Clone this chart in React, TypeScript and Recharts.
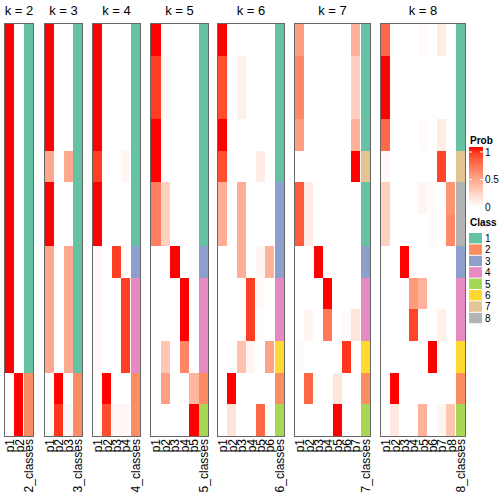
import React from 'react';
import { BarChart, Bar, XAxis, YAxis, Cell } from 'recharts';

const CLASS_COLORS = ['#66C2A5', '#FC8D62', '#8DA0CB', '#E78AC3', '#A6D854', '#FFD92F', '#E5C494', '#B3B3B3'];
const CLASS_LABELS = ['1', '2', '3', '4', '5', '6', '7', '8'];
const PROB_TICKS = [1, 0.5, 0];

const k2Probs = [
  [1, 0], [1, 0], [1, 0], [1, 0], [1, 0], [1, 0], [1, 0], [1, 0], [1, 0], [1, 0], [1, 0],
  [0, 1], [0, 1],
];
const k2Class = [1, 1, 1, 1, 1, 1, 1, 1, 1, 1, 1, 2, 2];

const k3Probs = [
  [1, 0, 0], [1, 0, 0], [1, 0, 0], [1, 0, 0],
  [0.45, 0, 0.45],
  [1, 0, 0], [1, 0, 0],
  [0.45, 0, 0.45], [0.45, 0, 0.45], [0.45, 0, 0.45], [0.45, 0, 0.45],
  [0, 1, 0],
  [0, 0.92, 0.04],
];
const k3Class = [1, 1, 1, 1, 1, 1, 1, 1, 1, 1, 1, 2, 2];

const k4Probs = [
  [1, 0, 0, 0], [1, 0, 0, 0], [1, 0, 0, 0], [1, 0, 0, 0],
  [0.9, 0, 0, 0.05],
  [1, 0, 0, 0], [1, 0, 0, 0],
  [0.03, 0, 0.9, 0],
  [0.03, 0, 0, 0.9], [0.03, 0, 0, 0.9], [0.03, 0, 0, 0.9],
  [0, 1, 0, 0],
  [0, 0.85, 0.04, 0.04],
];
const k4Class = [1, 1, 1, 1, 1, 1, 1, 3, 4, 4, 4, 2, 2];

const k5Probs = [
  [1, 0, 0, 0, 0],
  [0.9, 0.03, 0, 0, 0], [0.9, 0.03, 0, 0, 0],
  [1, 0, 0, 0, 0], [1, 0, 0, 0, 0],
  [0.65, 0.25, 0, 0, 0], [0.65, 0.25, 0, 0, 0],
  [0, 0, 1, 0, 0],
  [0, 0, 0, 1, 0], [0, 0, 0, 1, 0],
  [0, 0.3, 0, 0.62, 0],
  [0, 0.5, 0, 0, 0.38],
  [0, 0, 0, 0, 1],
];
const k5Class = [1, 1, 1, 1, 1, 1, 1, 3, 4, 4, 4, 2, 5];

const k6Probs = [
  [1, 0, 0, 0, 0, 0],
  [0.85, 0, 0.08, 0, 0, 0], [0.85, 0, 0.08, 0, 0, 0],
  [1, 0, 0, 0, 0, 0],
  [0.85, 0, 0, 0, 0.1, 0],
  [0.42, 0, 0.42, 0, 0, 0], [0.42, 0, 0.42, 0, 0, 0],
  [0, 0, 0.42, 0, 0.05, 0.4],
  [0, 0, 0, 0.9, 0.03, 0],
  [0, 0, 0, 0.9, 0.01, 0],
  [0, 0, 0.32, 0.05, 0, 0.48],
  [0, 1, 0, 0, 0, 0],
  [0, 0.15, 0, 0, 0.75, 0],
];
const k6Class = [1, 1, 1, 1, 1, 3, 3, 3, 4, 4, 6, 2, 5];

const k7Probs = [
  [0.5, 0, 0, 0, 0, 0, 0.4],
  [0.6, 0, 0, 0, 0, 0, 0.25], [0.6, 0, 0, 0, 0, 0, 0.25],
  [0.5, 0, 0, 0, 0, 0, 0.4],
  [0, 0, 0, 0, 0, 0, 1],
  [0.8, 0.1, 0, 0, 0, 0, 0], [0.8, 0.1, 0, 0, 0, 0, 0],
  [0, 0, 1, 0, 0, 0, 0],
  [0, 0, 0, 1, 0, 0, 0],
  [0, 0.05, 0, 0.68, 0, 0.02, 0.13],
  [0.02, 0, 0, 0, 0, 0.92, 0],
  [0, 0.75, 0, 0, 0.13, 0, 0],
  [0, 0, 0, 0, 1, 0, 0],
];
const k7Class = [1, 1, 1, 1, 7, 1, 1, 3, 4, 4, 6, 2, 5];

const k8Probs = [
  [0.75, 0, 0, 0, 0.02, 0, 0.1, 0],
  [1, 0, 0, 0, 0, 0, 0, 0], [1, 0, 0, 0, 0, 0, 0, 0],
  [0.75, 0, 0, 0, 0.02, 0, 0.1, 0],
  [0.03, 0, 0, 0, 0, 0, 0.88, 0],
  [0.25, 0, 0, 0, 0.05, 0.02, 0, 0.55],
  [0.25, 0, 0, 0, 0, 0.02, 0, 0.6],
  [0, 0, 1, 0, 0, 0, 0, 0],
  [0, 0, 0, 0.52, 0.4, 0, 0, 0],
  [0, 0, 0, 0.88, 0, 0, 0.08, 0],
  [0, 0, 0, 0, 0, 1, 0, 0],
  [0, 1, 0, 0, 0, 0, 0, 0],
  [0, 0.12, 0, 0, 0.4, 0, 0.05, 0.3],
];
const k8Class = [1, 1, 1, 1, 7, 8, 8, 3, 4, 4, 6, 2, 5];

const PANELS = [
  { k: 2, probs: k2Probs, classes: k2Class, left: 5, width: 28 },
  { k: 3, probs: k3Probs, classes: k3Class, left: 45, width: 37 },
  { k: 4, probs: k4Probs, classes: k4Class, left: 93, width: 47 },
  { k: 5, probs: k5Probs, classes: k5Class, left: 151, width: 57 },
  { k: 6, probs: k6Probs, classes: k6Class, left: 218, width: 66 },
  { k: 7, probs: k7Probs, classes: k7Class, left: 295, width: 75 },
  { k: 8, probs: k8Probs, classes: k8Class, left: 381, width: 84 },
];

const PLOT_TOP = 24;
const PLOT_BOTTOM = 436;
const PAD = 8;
const NROW = 13;
const FONT = '"Liberation Sans", Arial, Helvetica, sans-serif';

// white -> red interpolation in CIE LAB space
function finv(t: number) {
  const d = 6 / 29;
  return t > d ? t * t * t : 3 * d * d * (t - 4 / 29);
}
function gam(c: number) {
  const v = c <= 0.0031308 ? 12.92 * c : 1.055 * Math.pow(c, 1 / 2.4) - 0.055;
  return Math.max(0, Math.min(255, Math.round(v * 255)));
}
function probColor(p: number) {
  const L = 100 + (53.24 - 100) * p;
  const a = 80.09 * p;
  const b = 67.2 * p;
  const fy = (L + 16) / 116;
  const fx = fy + a / 500;
  const fz = fy - b / 200;
  const X = 0.95047 * finv(fx);
  const Y = finv(fy);
  const Z = 1.08883 * finv(fz);
  const r = 3.2406 * X - 1.5372 * Y - 0.4986 * Z;
  const g = -0.9689 * X + 1.8758 * Y + 0.0415 * Z;
  const bb = 0.0557 * X - 0.204 * Y + 1.057 * Z;
  return `rgb(${gam(r)},${gam(g)},${gam(bb)})`;
}

const RotTick = (props: any) => {
  const { x, payload } = props;
  return (
    <text
      transform={`translate(${x + 4.5},${PLOT_BOTTOM + 3}) rotate(-90)`}
      textAnchor="end"
      fontSize={12}
      fontFamily={FONT}
      fill="#000"
    >
      {payload.value}
    </text>
  );
};

function Panel({ k, probs, classes, left, width }: any) {
  const names: string[] = [];
  for (let i = 1; i <= k; i++) names.push('p' + i);
  names.push(k + '_classes');
  const data = names.map((name) => {
    const o: any = { name };
    for (let r = 0; r < NROW; r++) o['r' + r] = 1;
    return o;
  });
  const fill = (r: number, c: number) =>
    c < k ? probColor(probs[r][c]) : CLASS_COLORS[classes[r] - 1];
  const rows = Array.from({ length: NROW }, (_, i) => i);
  return (
    <>
      <div
        style={{
          position: 'absolute',
          left: left - 20,
          width: width + 40,
          top: 3,
          textAlign: 'center',
          fontSize: 13,
          fontFamily: FONT,
          lineHeight: '16px',
        }}
      >
        {'k = ' + k}
      </div>
      <div style={{ position: 'absolute', left: left - PAD, top: 0 }}>
        <BarChart
          width={width + 2 * PAD}
          height={504}
          data={data}
          margin={{ top: PLOT_TOP, right: PAD, left: PAD, bottom: 504 - PLOT_BOTTOM - 68 }}
          barCategoryGap={0}
          barGap={0}
        >
          <XAxis dataKey="name" interval={0} tickLine={false} axisLine={false} height={68} tick={<RotTick />} />
          <YAxis hide type="number" domain={[0, NROW]} reversed allowDataOverflow width={0} />
          {rows.map((r) => (
            <Bar key={r} dataKey={'r' + r} stackId="s" isAnimationActive={false} shapeRendering="crispEdges">
              {data.map((d, c) => (
                <Cell key={c} fill={fill(r, c)} />
              ))}
            </Bar>
          ))}
        </BarChart>
      </div>
      <div
        style={{
          position: 'absolute',
          left: left - 1,
          top: PLOT_TOP - 1,
          width: width,
          height: PLOT_BOTTOM - PLOT_TOP,
          border: '1px solid #666',
          pointerEvents: 'none',
        }}
      />
    </>
  );
}

function Legend() {
  const stops = Array.from({ length: 11 }, (_, i) => i / 10);
  const barTop = 147;
  const barH = 60;
  return (
    <svg width={44} height={504} style={{ position: 'absolute', left: 460, top: 0 }}>
      <defs>
        <linearGradient id="probGrad" x1="0" y1="1" x2="0" y2="0">
          {stops.map((s) => (
            <stop key={s} offset={s} stopColor={probColor(s)} />
          ))}
        </linearGradient>
      </defs>
      <text x={10} y={144} fontSize={10} fontWeight="bold" fontFamily={FONT}>Prob</text>
      <rect x={9} y={barTop} width={14} height={barH} fill="url(#probGrad)" />
      {PROB_TICKS.map((t) => {
        const y = barTop + 5 + (1 - t) * (barH - 5);
        return (
          <g key={t}>
            {t > 0 && <line x1={9} x2={12} y1={y} y2={y} stroke="#fff" />}
            {t > 0 && <line x1={20} x2={23} y1={y} y2={y} stroke="#fff" />}
            <text x={25} y={y + 3.5} fontSize={10} fontFamily={FONT}>{t}</text>
          </g>
        );
      })}
      <text x={10} y={226} fontSize={10} fontWeight="bold" fontFamily={FONT}>Class</text>
      {CLASS_LABELS.map((lab, i) => (
        <g key={lab}>
          <rect x={9} y={233 + i * 11.4} width={13} height={10.4} fill={CLASS_COLORS[i]} />
          <text x={25} y={242 + i * 11.4} fontSize={10} fontFamily={FONT}>{lab}</text>
        </g>
      ))}
    </svg>
  );
}

export default function App() {
  return (
    <div style={{ position: 'absolute', left: 0, top: 0, width: 504, height: 504, background: '#fff', fontFamily: FONT }}>
      {PANELS.map((p) => (
        <Panel key={p.k} {...p} />
      ))}
      <Legend />
    </div>
  );
}
